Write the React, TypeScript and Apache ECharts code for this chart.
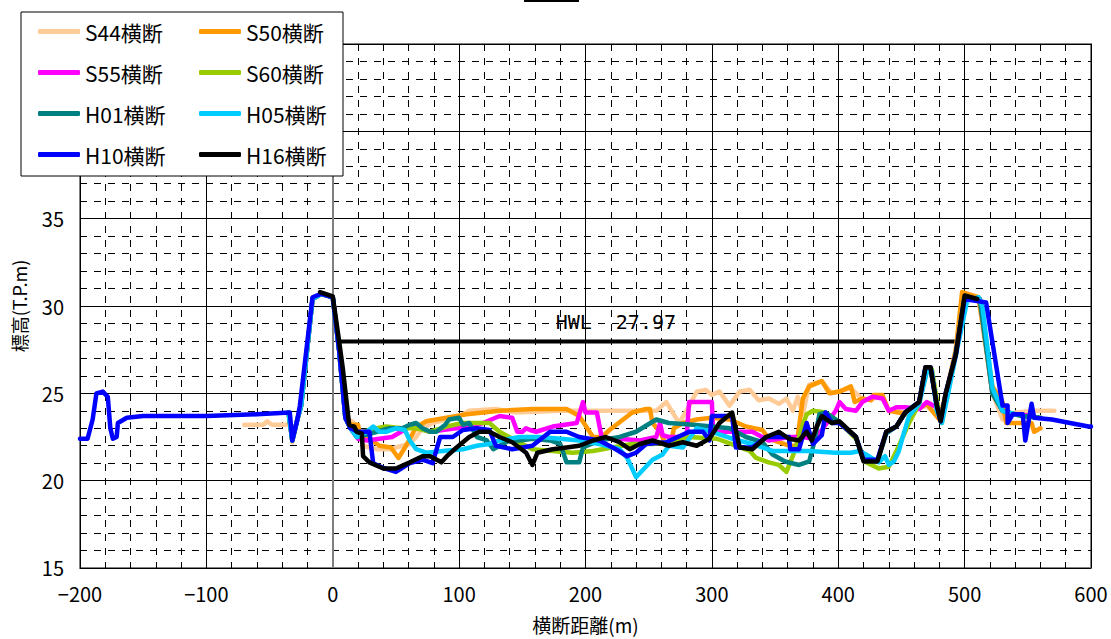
import React, { useEffect, useRef } from 'react';
import * as echarts from 'echarts';

const seriesNames = ['S44横断', 'S50横断', 'S55横断', 'S60横断', 'H01横断', 'H05横断', 'H10横断', 'H16横断'];
const seriesColors = ['#FFCC99', '#FF9900', '#FF00FF', '#99CC00', '#008080', '#00CCFF', '#0000FF', '#000000'];

const xTicks = { min: -200, max: 600, interval: 100 };
const yTicks = { min: 15, max: 45, interval: 5 };

const hwlValue = 27.97;
const hwlLine = [[5, 27.97], [493, 27.97]];
const hwlLabelAt = [224, 29.1];

const leftBank = [[-35, 23.9], [-32, 22.3], [-28, 23.5], [-25, 24.3], [-16, 30.4], [-9, 30.7], [0, 30.5], [5, 27.5], [10, 23.6]];

const s44 = [[-70, 23.2], [-55, 23.2], [-52, 23.4], [-48, 23.2], [-33, 23.2], [-32, 22.2], [-28, 23.6], [-25, 24.3], [-16, 30.4], [-9, 30.7], [0, 30.5], [5, 27.5], [10, 23.5], [15, 23.4], [20, 23.1], [24, 22.0], [35, 21.8], [45, 21.8], [55, 22.0], [61, 22.1], [66, 22.5], [71, 23.0], [79, 23.3], [90, 23.5], [103, 23.8], [108, 24.0], [129, 24.1], [145, 23.9], [180, 24.0], [230, 24.0], [256, 24.0], [264, 24.5], [274, 23.3], [280, 24.0], [288, 25.1], [295, 25.2], [300, 24.9], [306, 25.1], [314, 24.3], [322, 25.1], [330, 25.2], [337, 24.6], [345, 24.7], [353, 24.4], [359, 24.7], [364, 24.0], [368, 24.8], [372, 23.8], [377, 25.5], [387, 25.7], [395, 25.0], [410, 25.3], [420, 24.6], [435, 24.8], [440, 24.0], [455, 23.9], [470, 24.3], [480, 23.6], [487, 25.2], [493, 27.5], [500, 30.7], [511, 30.4], [522, 25.0], [530, 23.5], [540, 23.9], [555, 24.0], [571, 24.0]];

const s50 = [...leftBank, [14, 23.2], [20, 23.2], [21, 22.8], [37, 22.0], [46, 21.9], [52, 21.3], [58, 22.0], [64, 22.8], [67, 23.1], [74, 23.4], [90, 23.6], [106, 23.8], [132, 24.0], [158, 24.1], [185, 24.1], [195, 23.7], [206, 22.5], [213, 22.5], [219, 22.9], [237, 23.9], [248, 24.1], [251, 24.1], [253, 23.3], [259, 22.8], [264, 22.0], [267, 22.0], [270, 23.0], [277, 23.3], [288, 23.5], [300, 23.6], [314, 23.5], [327, 23.1], [340, 22.9], [345, 22.4], [361, 22.0], [367, 22.0], [372, 24.7], [377, 25.4], [387, 25.7], [393, 25.0], [401, 25.1], [410, 25.4], [413, 24.5], [419, 24.7], [426, 24.6], [428, 24.9], [435, 24.9], [440, 24.0], [455, 23.8], [470, 24.4], [480, 23.5], [486, 25.2], [493, 27.5], [498, 30.8], [511, 30.5], [522, 25.4], [530, 24.5], [533, 23.3], [553, 23.3], [555, 22.8], [560, 23.0]];

const s55 = [...leftBank, [14, 23.0], [20, 22.4], [27, 22.3], [37, 22.4], [47, 22.5], [54, 22.8], [61, 23.1], [69, 23.0], [77, 22.8], [87, 22.9], [98, 23.0], [108, 23.1], [119, 23.3], [132, 23.7], [142, 23.6], [146, 22.8], [150, 22.8], [153, 23.0], [156, 22.9], [161, 22.8], [174, 23.1], [193, 23.3], [198, 24.5], [200, 23.9], [209, 23.9], [213, 22.4], [227, 22.4], [243, 22.3], [256, 22.5], [259, 23.3], [261, 22.6], [266, 22.5], [280, 22.5], [282, 24.5], [300, 24.5], [301, 22.8], [319, 22.8], [332, 22.8], [345, 22.3], [361, 22.5], [372, 22.5], [380, 22.4], [387, 22.9], [398, 24.0], [401, 24.5], [406, 24.1], [414, 24.0], [419, 24.5], [427, 24.8], [435, 24.7], [440, 24.0], [446, 24.2], [453, 24.2], [464, 24.1], [470, 24.5], [478, 24.2], [481, 23.4], [486, 25.0], [493, 27.3], [500, 30.5], [512, 30.4], [522, 25.0], [530, 24.0], [540, 23.8], [555, 23.7]];

const s60 = [...leftBank, [14, 23.1], [19, 22.7], [35, 23.0], [42, 23.1], [55, 23.0], [66, 23.0], [77, 22.8], [90, 23.1], [103, 23.3], [114, 23.3], [124, 23.3], [132, 22.8], [142, 22.4], [158, 21.8], [174, 21.7], [190, 21.6], [206, 21.7], [221, 21.9], [237, 22.1], [253, 22.1], [266, 22.2], [282, 22.5], [304, 22.4], [319, 22.0], [330, 21.7], [335, 21.3], [345, 21.05], [353, 20.9], [359, 20.5], [364, 21.4], [372, 23.2], [375, 23.8], [380, 24.0], [390, 23.9], [400, 23.4], [414, 22.4], [422, 21.05], [432, 20.7], [440, 20.8], [448, 22.0], [456, 23.3], [464, 24.4], [470, 26.3], [474, 26.4], [479, 24.2], [482, 23.3], [486, 25.0], [493, 27.3], [500, 30.5], [512, 30.4], [522, 25.0], [530, 24.0], [545, 23.7], [560, 23.6]];

const h01 = [...leftBank, [14, 23.0], [19, 22.5], [30, 22.7], [45, 23.0], [55, 23.0], [61, 23.2], [66, 23.3], [71, 23.0], [77, 22.8], [82, 22.8], [89, 23.2], [92, 23.5], [100, 23.6], [103, 23.2], [108, 23.3], [114, 22.5], [122, 22.3], [127, 21.8], [132, 22.0], [140, 22.3], [148, 22.3], [158, 22.4], [172, 22.3], [180, 22.1], [185, 21.05], [195, 21.05], [198, 21.9], [211, 22.3], [227, 22.5], [240, 22.8], [256, 23.5], [266, 23.3], [285, 23.2], [300, 23.1], [314, 23.0], [327, 22.5], [340, 22.2], [348, 21.5], [358, 21.1], [369, 20.9], [377, 21.1], [381, 22.2], [385, 23.8], [390, 23.9], [400, 23.4], [414, 22.5], [420, 21.2], [431, 21.1], [438, 22.7], [446, 23.1], [453, 23.9], [464, 24.5], [469, 26.4], [473, 26.4], [478, 24.3], [481, 23.4], [486, 25.0], [493, 27.3], [500, 30.5], [512, 30.4], [522, 25.0], [530, 24.0], [545, 23.7], [560, 23.6]];

const h05 = [...leftBank, [14, 23.0], [19, 22.5], [27, 22.8], [32, 23.1], [37, 22.8], [42, 22.8], [50, 23.0], [57, 22.9], [61, 22.3], [66, 21.8], [74, 21.6], [87, 21.7], [103, 21.8], [114, 22.0], [124, 22.1], [132, 22.3], [148, 22.5], [164, 22.5], [180, 22.4], [195, 22.3], [211, 22.1], [227, 21.8], [233, 21.3], [240, 20.2], [253, 21.2], [261, 21.5], [266, 22.0], [277, 21.9], [288, 23.0], [300, 22.8], [316, 22.4], [332, 22.1], [348, 21.7], [364, 21.7], [377, 21.7], [398, 21.6], [410, 21.6], [417, 21.7], [422, 21.5], [432, 21.05], [437, 21.4], [440, 20.9], [444, 21.1], [448, 21.7], [451, 22.5], [456, 23.7], [464, 24.4], [470, 26.2], [474, 26.3], [478, 24.0], [482, 23.3], [487, 25.0], [494, 27.5], [502, 30.3], [511, 30.5], [514, 30.0], [522, 25.3], [530, 24.0], [540, 23.8]];

const h10 = [[-200, 22.4], [-194, 22.4], [-190, 23.5], [-187, 25.0], [-182, 25.1], [-178, 24.8], [-176, 23.0], [-174, 22.4], [-171, 22.5], [-170, 23.3], [-163, 23.6], [-150, 23.7], [-100, 23.7], [-60, 23.8], [-34, 23.9], [-32, 22.3], [-28, 23.5], [-26, 24.3], [-16, 30.5], [-9, 30.7], [0, 30.5], [5, 27.5], [10, 23.6], [14, 23.0], [20, 22.8], [24, 22.8], [29, 22.8], [31, 21.6], [32, 21.0], [41, 20.7], [50, 20.5], [61, 21.0], [71, 21.2], [79, 21.0], [85, 22.5], [95, 22.5], [103, 22.9], [114, 23.0], [124, 22.9], [129, 22.0], [142, 21.8], [158, 22.0], [172, 22.8], [185, 22.8], [195, 22.5], [211, 22.3], [224, 21.8], [233, 21.4], [240, 21.6], [248, 22.1], [264, 22.2], [282, 22.8], [293, 22.8], [298, 22.3], [300, 23.7], [316, 23.7], [319, 21.9], [332, 21.9], [343, 22.5], [361, 22.5], [362, 21.8], [369, 21.8], [375, 23.3], [380, 22.1], [387, 22.6], [390, 23.9], [395, 23.3], [401, 23.3], [414, 22.5], [420, 21.2], [431, 21.2], [438, 22.8], [446, 23.1], [453, 23.9], [464, 24.5], [469, 26.5], [473, 26.5], [478, 24.3], [481, 23.4], [485, 25.0], [493, 27.2], [500, 30.4], [517, 30.2], [530, 24.3], [534, 24.3], [534, 23.3], [538, 23.8], [546, 23.8], [548, 22.3], [553, 24.4], [555, 23.6], [569, 23.5], [598, 23.1], [600, 23.1]];

const h16 = [[-10, 30.8], [0, 30.55], [5, 28.0], [8, 26.4], [13, 23.2], [17, 23.1], [19, 22.8], [23, 22.7], [24, 21.4], [29, 21.05], [40, 20.7], [50, 20.7], [61, 21.05], [71, 21.4], [77, 21.4], [86, 21.05], [91, 21.45], [98, 21.9], [108, 22.5], [116, 22.8], [124, 22.8], [132, 22.5], [142, 22.2], [153, 21.6], [158, 20.9], [162, 21.6], [174, 21.8], [185, 21.9], [195, 22.0], [206, 22.3], [216, 22.5], [227, 22.2], [235, 21.8], [243, 22.1], [253, 22.3], [266, 22.0], [277, 22.2], [288, 22.0], [298, 22.4], [306, 23.3], [316, 23.9], [319, 22.9], [322, 21.9], [332, 21.8], [343, 22.5], [353, 22.8], [361, 22.4], [369, 22.3], [375, 22.8], [379, 22.3], [383, 23.1], [387, 23.7], [395, 23.3], [401, 23.4], [414, 22.5], [420, 21.1], [431, 21.1], [438, 22.8], [446, 23.1], [453, 23.9], [464, 24.5], [469, 26.5], [473, 26.5], [478, 24.3], [481, 23.4], [485, 25.0], [493, 27.2], [500, 30.6], [510, 30.4]];

const seriesData = [s44, s50, s55, s60, h01, h05, h10, h16];

const FONT = '"Noto Sans CJK JP", "Noto Sans", sans-serif';

export default function App() {
  const ref = useRef<HTMLDivElement>(null);
  useEffect(() => {
    if (!ref.current) return;
    const chart = echarts.init(ref.current, null, { renderer: 'svg' });
    const lines = seriesNames.map((name, i) => ({
      name,
      type: 'line',
      data: seriesData[i],
      showSymbol: false,
      symbol: 'none',
      lineStyle: { color: seriesColors[i], width: 4.5, join: 'round', cap: 'round' },
      itemStyle: { color: seriesColors[i] },
      z: 3 + i,
    }));
    const option = {
      animation: false,
      backgroundColor: '#ffffff',
      graphic: [
        { type: 'rect', shape: { x: 524, y: 0, width: 55, height: 2 }, style: { fill: '#000' } },
      ],
      grid: { left: 80, right: 20, top: 44, bottom: 70, show: true, borderColor: '#808080', borderWidth: 2, backgroundColor: 'transparent' },
      legend: {
        data: seriesNames,
        left: 21,
        top: 12,
        width: 310,
        orient: 'horizontal',
        padding: [9, 3, 11, 17],
        itemGap: 20,
        itemWidth: 42,
        itemHeight: 5,
        icon: 'roundRect',
        backgroundColor: '#ffffff',
        borderColor: '#000000',
        borderWidth: 1,
        borderRadius: 0,
        textStyle: { fontSize: 21, fontFamily: FONT, color: '#000', width: 94, lineHeight: 21 },
        z: 20,
      },
      xAxis: {
        type: 'value',
        min: xTicks.min,
        max: xTicks.max,
        interval: xTicks.interval,
        name: '横断距離(m)',
        nameLocation: 'middle',
        nameGap: 47,
        nameTextStyle: { fontSize: 19, fontFamily: FONT, color: '#000' },
        axisLine: { show: false },
        axisTick: { show: false },
        axisLabel: { fontSize: 20, fontFamily: FONT, color: '#000', margin: 16, formatter: (v: number) => String(v).replace('-', '−') },
        splitLine: { show: true, lineStyle: { color: '#000', width: 1 } },
        minorTick: { show: false, splitNumber: 5 },
        minorSplitLine: { show: true, lineStyle: { color: '#000', width: 1, type: [7, 7] } },
      },
      yAxis: {
        type: 'value',
        min: yTicks.min,
        max: yTicks.max,
        interval: yTicks.interval,
        name: '標高(T.P.m)',
        nameLocation: 'middle',
        nameGap: 52,
        nameTextStyle: { fontSize: 18, fontFamily: FONT, color: '#000' },
        axisLine: { show: false },
        axisTick: { show: false },
        axisLabel: { fontSize: 20, fontFamily: FONT, color: '#000', margin: 16 },
        splitLine: { show: true, lineStyle: { color: '#000', width: 1 } },
        minorTick: { show: false, splitNumber: 5 },
        minorSplitLine: { show: true, lineStyle: { color: '#000', width: 1, type: [7, 7] } },
      },
      series: [
        {
          name: 'HWL',
          type: 'line',
          data: hwlLine,
          symbol: 'none',
          lineStyle: { color: '#000', width: 4 },
          z: 2,
          markLine: {
            silent: true,
            symbol: 'none',
            label: { show: false },
            lineStyle: { color: '#808080', width: 2, type: 'solid' },
            data: [{ xAxis: 0 }],
          },
          markPoint: {
            symbol: 'circle',
            symbolSize: 0,
            data: [{ coord: hwlLabelAt, value: hwlValue }],
            label: { show: true, position: 'inside', formatter: () => 'HWL  ' + hwlValue.toFixed(2), fontSize: 20, fontFamily: '"DejaVu Sans Mono", monospace', color: '#000' },
          },
        },
        ...lines,
      ],
    };
    chart.setOption(option as any);
    return () => chart.dispose();
  }, []);
  return <div ref={ref} style={{ position: 'fixed', left: 0, top: 0, width: 1111, height: 639 }} />;
}
